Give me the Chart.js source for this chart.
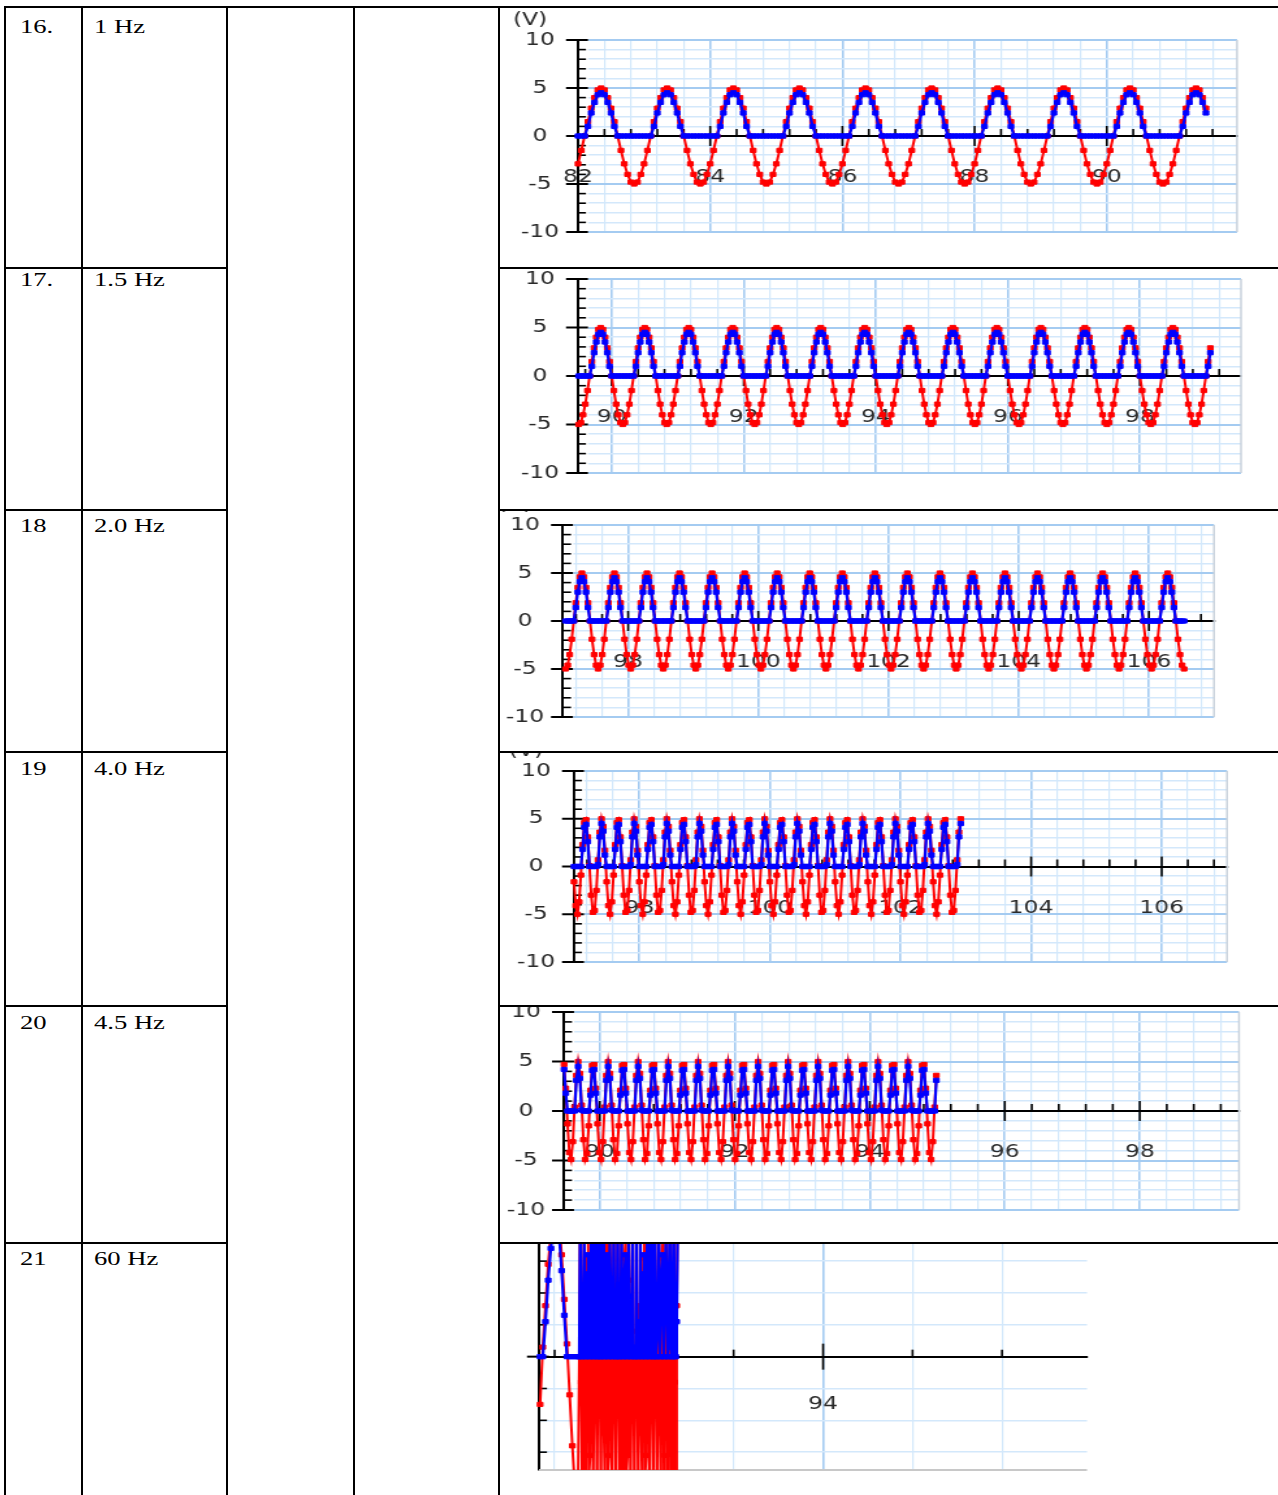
<!DOCTYPE html>
<html><head><meta charset="utf-8">
<script src="https://cdn.jsdelivr.net/npm/chart.js@4.4.1/dist/chart.umd.min.js"></script>
<style>
html,body{margin:0;padding:0;background:#fff;}
body{width:1278px;height:1495px;overflow:hidden;position:relative;}
.ln{position:absolute;background:#000;}
.txt{position:absolute;font-family:'Liberation Serif','Times New Roman',serif;font-size:19px;line-height:19px;color:#000;transform-origin:0 0;transform:scaleX(1.4);white-space:nowrap;}
.chartbox{position:absolute;overflow:hidden;}
.chartbox canvas{position:absolute;left:0;transform-origin:0 0;}
</style></head><body>
<script>
// ---------------- data ----------------
const rowNumbers = ['16.', '17.', '18', '19', '20', '21'];
const frequencyLabels = ['1 Hz', '1.5 Hz', '2.0 Hz', '4.0 Hz', '4.5 Hz', '60 Hz'];

// axis ranges of each plot (time in s, voltage in V)
const xMin = [82, 89.49, 97, 97, 89.47, 92.73];
const xMax = [91.97, 99.53, 107, 107, 99.47, 95.18];
const yMin = [-10, -10, -10, -10, -10, -3.56];
const yMax = [10, 10, 10, 10, 10, 4];
const xTickStep = [0.4, 0.4, 0.4, 0.4, 0.4, 0.4];
const xLabelEvery = [2, 2, 2, 2, 2, 2];
const yTickStep = [1, 1, 1, 1, 1, 1];
const yLabelEvery = [5, 5, 5, 5, 5, 0];

// repeating run of samples: red = input, blue = half-wave output
const redRun1  = [-2.9, -1.5, 0, 1.5, 2.9, 4.0, 4.8, 5.0, 4.8, 4.0, 2.9, 1.5, 0, -1.5, -2.9, -4.0, -4.8, -5.0, -4.8, -4.0];
const blueRun1 = [0, 0, 0, 1.0, 2.4, 3.5, 4.3, 4.5, 4.3, 3.5, 2.4, 1.0, 0, 0, 0, 0, 0, 0, 0, 0];
const redRun2  = [-5.0, -4.8, -4.0, -2.9, -1.5, 0, 1.5, 2.9, 4.0, 4.8, 5.0, 4.8, 4.0, 2.9, 1.5, 0, -1.5, -2.9, -4.0, -4.8];
const blueRun2 = [0, 0, 0, 0, 0, 0, 1.0, 2.4, 3.5, 4.3, 4.5, 4.3, 3.5, 2.4, 1.0, 0, 0, 0, 0, 0];
const redRun3  = [-5.0, -4.6, -3.5, -1.9, 0, 1.9, 3.5, 4.6, 5.0, 4.6, 3.5, 1.9, 0, -1.9, -3.5, -4.6];
const blueRun3 = [0, 0, 0, 0, 0, 1.4, 3.0, 4.1, 4.5, 4.1, 3.0, 1.4, 0, 0, 0, 0];
const redRun4  = [-1.6, -4.1, -5.0, -3.7, -0.9, 2.3, 4.6, 4.9, 3.1, 0.1, -3.0, -4.8, -4.6, -2.5, 0.7, 3.6, 5.0, 4.2, 1.7];
const blueRun4 = [0, 0, 0, 0, 0, 1.8, 4.1, 4.4, 2.6, 0, 0, 0, 0, 0, 0.2, 3.1, 4.5, 3.7, 1.2];
const redRun5  = [4.7, 2.3, -1.3, -4.2, -4.9, -3.1, 0.4, 3.6, 5.0, 3.8, 0.6, -2.9, -4.9, -4.3, -1.5, 2.1, 4.6];
const blueRun5 = [4.2, 1.8, 0, 0, 0, 0, 0, 3.1, 4.5, 3.3, 0.1, 0, 0, 0, 0, 1.6, 4.1];
const redRun6  = [0, 5.0, -0.8, -4.9, 1.6, 4.6, -2.4, -4.2, 3.1, 3.7, -3.7, -3.1, 4.2, 2.4, -4.6, -1.6, 4.9, 0.8, -5.0];
const blueRun6 = [0, 4.5, 0, 0, 1.1, 4.1, 0, 0, 2.6, 3.2, 0, 0, 3.7, 1.9, 0, 0, 4.4, 0.3, 0];
const redRuns  = [redRun1, redRun2, redRun3, redRun4, redRun5, redRun6];
const blueRuns = [blueRun1, blueRun2, blueRun3, blueRun4, blueRun5, blueRun6];
const traceStart  = [82.0, 89.5, 97.04, 97.0, 89.47, 92.91];
const sampleStep  = [0.05, 0.03333, 0.03125, 0.026316, 0.026144, 0.0044];
const sampleCount = [191, 288, 305, 226, 212, 101];

// 60 Hz plot: slow lead-in samples before the dense part
const lead6Time = [92.735, 92.747, 92.759, 92.771, 92.783, 92.795, 92.807, 92.819, 92.831, 92.843, 92.855, 92.867, 92.879, 92.891, 92.903];
const lead6Red  = [-1.5, 0.3, 1.6, 2.9, 3.9, 4.6, 5.0, 4.4, 3.2, 1.8, 0.4, -1.2, -2.8, -4.2, -5.0];
const lead6Blue = [0, 0, 1.1, 2.4, 3.4, 4.1, 4.5, 3.9, 2.7, 1.3, 0, 0, 0, 0, 0];

// ---------------- layout (page pixels) ----------------
const S = 1.3;          // horizontal stretch of the pasted plot images
const OFF = 40;         // canvas overhang above/below each cell
const rowTops = [7, 268, 510, 752, 1006, 1243, 1495];
const textTops = [17, 270, 516, 759, 1013, 1249];
const plotBox = [
  {ax: 578, right: 1237, top: 40,   bottom: 232, yw: 46},
  {ax: 578, right: 1241, top: 279,  bottom: 473, yw: 46},
  {ax: 563, right: 1214, top: 525,  bottom: 717, yw: 46},
  {ax: 574, right: 1227, top: 771,  bottom: 962, yw: 46},
  {ax: 564, right: 1239, top: 1012, bottom: 1210, yw: 46},
  {ax: 539, right: 1087, top: 1228, bottom: 1470, yw: 20}
];
const MAJ = '#a4cbf1', MIN = '#d3e8fb';

function mult(v, m) { if (!m) return false; const q = v / m; return Math.abs(q - Math.round(q)) < 1e-6; }

// ---------------- table ----------------
function line(l, t, w, h) { const d = document.createElement('div'); d.className = 'ln'; d.style.cssText = `left:${l}px;top:${t}px;width:${w}px;height:${h}px`; document.body.appendChild(d); }
function text(s, l, t) { const d = document.createElement('div'); d.className = 'txt'; d.textContent = s; d.style.left = l + 'px'; d.style.top = t + 'px'; document.body.appendChild(d); }

const decoPlugin = {
  id: 'deco',
  beforeDatasetsDraw(chart, args, o) {
    const ctx = chart.ctx, a = chart.chartArea, xs = chart.scales.x, ys = chart.scales.y;
    const ax = a.left, ay = ys.getPixelForValue(0);
    ctx.save();
    if (o.gap) {
      ctx.fillStyle = '#fff';
      const x0 = ax + 1;
      ctx.fillRect(x0, a.top - 1, o.gap, ay - 1 - (a.top - 1));
      if (o.keepLabel) {
        ctx.fillRect(x0, ay + 1, o.gap, 29);
        ctx.fillRect(x0, ay + 54, o.gap, a.bottom + 1 - (ay + 54));
      } else {
        ctx.fillRect(x0, ay + 1, o.gap, a.bottom + 1 - (ay + 1));
      }
    }
    if (o.rightEdge) {
      ctx.strokeStyle = '#c9d2dc'; ctx.lineWidth = 1.5;
      ctx.beginPath(); ctx.moveTo(a.right, a.top); ctx.lineTo(a.right, a.bottom); ctx.stroke();
    }
    if (o.bottomEdge) {
      ctx.strokeStyle = '#c8c8c8'; ctx.lineWidth = 2;
      ctx.beginPath(); ctx.moveTo(a.left, a.bottom); ctx.lineTo(a.right, a.bottom); ctx.stroke();
    }
    ctx.strokeStyle = '#000';
    ys.ticks.forEach(t => {
      const y = ys.getPixelForValue(t.value);
      if (y < a.top - 1 || y > a.bottom + 1) return;
      ctx.beginPath();
      if (mult(t.value, 5)) { ctx.lineWidth = 2; ctx.moveTo(ax - 12 / S, y); ctx.lineTo(ax + 10 / S, y); }
      else { ctx.lineWidth = 1.6; ctx.moveTo(ax, y); ctx.lineTo(ax + 8 / S, y); }
      ctx.stroke();
    });
    xs.ticks.forEach(t => {
      const x = xs.getPixelForValue(t.value);
      if (x < a.left - 1 || x > a.right + 1) return;
      ctx.beginPath(); ctx.lineWidth = 1.6;
      if (mult(t.value, 2)) { ctx.moveTo(x, ay - o.xMaj); ctx.lineTo(x, ay + o.xMaj); }
      else { ctx.moveTo(x, ay - 7); ctx.lineTo(x, ay); }
      ctx.stroke();
    });
    if (o.unit) {
      ctx.font = '18px "DejaVu Sans"'; ctx.fillStyle = '#2a2a2a';
      ctx.textAlign = 'center'; ctx.textBaseline = 'middle';
      ctx.fillText('(V)', ax - 48 / S, a.top - 20);
    }
    ctx.restore();
  }
};

for (let i = 0; i < 6; i++) {
  const rt = rowTops[i], rb = rowTops[i + 1];
  const bx = 500, by = rt + 1, bw = 778, bh = (i === 5 ? 1495 : rb - 1) - by;
  const box = document.createElement('div'); box.className = 'chartbox';
  box.style.cssText = `left:${bx}px;top:${by}px;width:${bw}px;height:${bh}px`;
  const cv = document.createElement('canvas');
  const CW = Math.ceil(bw / S), CH = bh + 2 * OFF;
  cv.width = CW; cv.height = CH;
  cv.style.cssText = `top:${-OFF}px;width:${CW}px;height:${CH}px;transform:scaleX(${S})`;
  box.appendChild(cv); document.body.appendChild(box);

  const pb = plotBox[i], y0 = by - OFF;
  const pad = {
    left: (pb.ax - bx) / S - pb.yw,
    right: CW - (pb.right - bx) / S,
    top: pb.top - y0,
    bottom: CH - (pb.bottom - y0)
  };

  const red = [], blue = [];
  if (i === 5) {
    lead6Time.forEach((t, k) => { red.push({x: t, y: lead6Red[k]}); blue.push({x: t, y: lead6Blue[k]}); });
  }
  const rr = redRuns[i], br = blueRuns[i];
  for (let k = 0; k < sampleCount[i]; k++) {
    const t = traceStart[i] + k * sampleStep[i];
    red.push({x: t, y: rr[k % rr.length]});
    blue.push({x: t, y: br[k % br.length]});
  }
  const clip = i === 5 ? {left: 5, top: 0, right: 5, bottom: 0} : 6;
  const ptStyle = {pointStyle: 'rect', pointRadius: 3, pointHoverRadius: 3, pointBorderWidth: 1, tension: 0, clip: clip};

  new Chart(cv, {
    type: 'line',
    data: {
      datasets: [
        Object.assign({label: 'Output', data: blue, borderColor: '#0000ff', backgroundColor: '#0000ff', pointBackgroundColor: '#0000ff', pointBorderColor: '#0000ff', borderWidth: 2.2}, ptStyle),
        Object.assign({label: 'Input', data: red, borderColor: '#ff0000', backgroundColor: '#ff0000', pointBackgroundColor: '#ff0000', pointBorderColor: '#ff0000', borderWidth: 2}, ptStyle)
      ]
    },
    options: {
      responsive: false, animation: false, events: [],
      layout: {autoPadding: false, padding: pad},
      plugins: {
        legend: {display: false}, tooltip: {enabled: false},
        deco: {gap: i === 5 ? 0 : 9 / S, keepLabel: i === 0, unit: i !== 5, rightEdge: i !== 5, bottomEdge: i === 5, xMaj: i === 5 ? 13 : 10}
      },
      scales: {
        x: {
          type: 'linear', min: xMin[i], max: xMax[i], position: {y: 0},
          afterBuildTicks: s => {
            const st = xTickStep[i], out = [];
            for (let k = Math.ceil(xMin[i] / st - 1e-9); k * st <= xMax[i] + 1e-9; k++) out.push({value: Math.round(k * st * 1000) / 1000});
            s.ticks = out;
          },
          grid: {
            drawTicks: false,
            color: c => (c.tick && mult(c.tick.value, xLabelEvery[i])) ? MAJ : MIN,
            lineWidth: c => (c.tick && mult(c.tick.value, xLabelEvery[i])) ? 1.6 : 1.2
          },
          border: {display: true, color: '#000', width: 2},
          ticks: {
            autoSkip: false, maxRotation: 0, minRotation: 0,
            padding: i === 5 ? 37 : 31, color: '#2a2a2a', font: {family: 'DejaVu Sans', size: 18},
            callback: v => mult(v, xLabelEvery[i]) && (i !== 5 || Math.abs(v - 94) < 1e-6) ? String(Math.round(v)) : ''
          }
        },
        y: {
          type: 'linear', min: yMin[i], max: yMax[i], position: 'left',
          afterFit: s => { s.width = pb.yw; },
          grid: {
            drawTicks: false,
            color: c => (c.tick && mult(c.tick.value, 5) && i !== 5) ? MAJ : MIN,
            lineWidth: c => (c.tick && mult(c.tick.value, 5) && i !== 5) ? 2 : 1.5
          },
          border: {display: true, color: '#000', width: 2},
          ticks: {
            stepSize: yTickStep[i], includeBounds: false, autoSkip: false, crossAlign: 'center', padding: 14.5,
            color: '#2a2a2a', font: {family: 'DejaVu Sans', size: 18},
            callback: v => mult(v, yLabelEvery[i]) ? String(Math.round(v)) : ''
          }
        }
      }
    },
    plugins: [decoPlugin]
  });
}

// table borders (drawn over the plot cells)
line(5, 6, 1273, 2);
[5, 82, 227, 354, 499].forEach(x => line(x - 1, 6, 2, 1489));
[268, 510, 752, 1006, 1243].forEach(y => { line(5, y - 1, 223, 2); line(499, y - 1, 779, 2); });
rowNumbers.forEach((s, i) => { text(s, 20, textTops[i]); text(frequencyLabels[i], 94, textTops[i]); });
</script>
</body></html>
